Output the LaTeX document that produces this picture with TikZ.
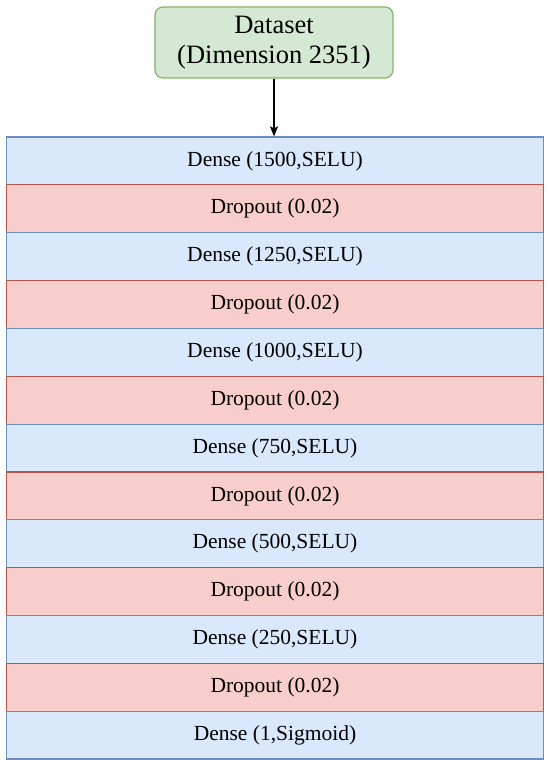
\documentclass[tikz,border=0pt]{standalone}
\usepackage{fontspec}
\setmainfont{Liberation Serif}
\usetikzlibrary{arrows.meta}
\definecolor{gfill}{HTML}{D5E8D4}\definecolor{gdraw}{HTML}{82B366}
\definecolor{bfill}{HTML}{DAE8FC}\definecolor{bdraw}{HTML}{6C8EBF}
\definecolor{rfill}{HTML}{F8CECC}\definecolor{rdraw}{HTML}{B85450}
\tikzset{
  dsbox/.style={draw=gdraw,fill=gfill,line width=1.2pt,rounded corners=8pt,minimum width=238pt,minimum height=71pt,inner sep=0pt,align=center,font=\fontsize{26.5}{30}\selectfont},
  dlayer/.style={draw=bdraw,fill=bfill,line width=1.2pt,minimum width=537pt,minimum height=47.85pt,inner sep=0pt,font=\fontsize{21.5}{24}\selectfont},
  rlayer/.style={dlayer,draw=rdraw,fill=rfill},
  flow/.style={-{Stealth[length=10pt,width=8pt,inset=2pt]},line width=1.2pt,black}
}
\begin{document}
\begin{tikzpicture}[x=1pt,y=-1pt]
\useasboundingbox (0,0) rectangle (550,767);
\node[dsbox] (ds) at (274,42.5) {Dataset\\(Dimension 2351)};
\foreach \t [count=\i] in {Dense (1500{,}SELU),Dropout (0.02),Dense (1250{,}SELU),Dropout (0.02),Dense (1000{,}SELU),Dropout (0.02),Dense (750{,}SELU),Dropout (0.02),Dense (500{,}SELU),Dropout (0.02),Dense (250{,}SELU),Dropout (0.02),Dense (1{,}Sigmoid)}{
  \pgfmathsetmacro{\yy}{137+47.85*(\i-0.5)}
  \ifodd\i
    \node[dlayer] (L\i) at (275,\yy) {\t};
  \else
    \node[rlayer] (L\i) at (275,\yy) {\t};
  \fi
}
\draw[flow] (ds.south) -- (ds.south |- L1.north);
\end{tikzpicture}
\end{document}
